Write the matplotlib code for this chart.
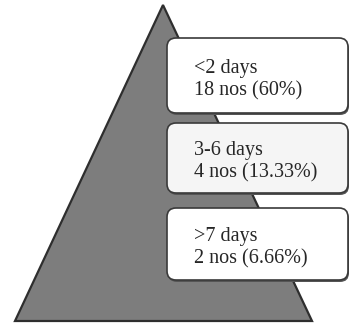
import matplotlib.pyplot as plt
from matplotlib.patches import Polygon, FancyBboxPatch

# data
labels = ['<2 days', '3-6 days', '>7 days']
counts = [18, 4, 2]
percents = ['60%', '13.33%', '6.66%']

W, H = 350, 323
fig = plt.figure(figsize=(W / 100, H / 100), dpi=100)
ax = fig.add_axes([0, 0, 1, 1])
ax.set_xlim(0, W)
ax.set_ylim(H, 0)
ax.axis('off')

# pyramid
tri = Polygon([(163, 5), (15, 321), (312, 321)], closed=True,
              facecolor='#7d7d7d', edgecolor='#2e2e2e', lw=1.6, zorder=1)
ax.add_patch(tri)

# boxes (top, bottom) in pixel coords
box_y = [(38, 113), (123, 193), (208, 280)]
fills = ['white', '#f5f5f5', 'white']
x0, x1 = 167, 348

for i, lab in enumerate(labels):
    top, bot = box_y[i]
    # shadow
    sh = FancyBboxPatch((x0 + 1, top + 2), x1 - x0, bot - top,
                        boxstyle='round,pad=0,rounding_size=9',
                        facecolor='#555555', edgecolor='none', zorder=2)
    ax.add_patch(sh)
    bx = FancyBboxPatch((x0, top), x1 - x0, bot - top,
                        boxstyle='round,pad=0,rounding_size=9',
                        facecolor=fills[i], edgecolor='#3a3a3a', lw=1.2, zorder=3)
    ax.add_patch(bx)
    cy = (top + bot) / 2 + 4
    txt = f"{lab}\n{counts[i]} nos ({percents[i]})"
    ax.text(194, cy, txt, ha='left', va='center', fontsize=14.5,
            family='Liberation Serif', color='#262626', linespacing=1.2, zorder=4)

fig.savefig('out.png', dpi=100)
